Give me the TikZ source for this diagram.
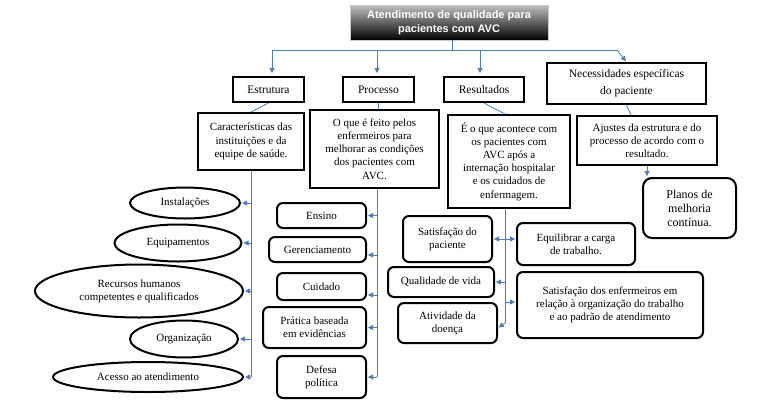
\documentclass[tikz,border=0pt]{standalone}
\usepackage{fontspec}
\setmainfont{Liberation Serif}
\newfontfamily\serfont{Liberation Serif}
\newfontfamily\titlefont{Liberation Sans}
\usetikzlibrary{shapes.geometric,arrows.meta}
\definecolor{linkblue}{HTML}{4A7EBB}
\begin{document}
\begin{tikzpicture}[x=1pt,y=-1pt,
  sz/.style 2 args={minimum width=#1pt,minimum height=#2pt},
  box/.style={draw=black,line width=2pt,inner sep=0pt,align=center,font=\serfont\fontsize{11}{13.2}\selectfont},
  hbox/.style={box,font=\serfont\fontsize{11.5}{15}\selectfont},
  rbox/.style={box,rounded corners=6pt},
  oval/.style={ellipse,draw=black,line width=2pt,inner sep=0pt,align=center,font=\serfont\fontsize{11}{13.2}\selectfont},
  titlebox/.style={top color=gray!50,bottom color=black,draw=gray!40,line width=0.6pt,inner sep=0pt,align=center,text=white,font=\titlefont\bfseries\fontsize{11}{14}\selectfont},
  link/.style={draw=linkblue,line width=0.8pt},
  arr/.style={link,-{Triangle[width=5pt,length=5pt]},shorten >=1pt},
  darr/.style={link,{Triangle[width=5pt,length=5pt]}-{Triangle[width=5pt,length=5pt]},shorten >=1pt,shorten <=1pt}
]
\fill[white] (0,0) rectangle (774,405);
\useasboundingbox (0,0) rectangle (774,405);

% title
\node[titlebox,sz={198}{35}] (title) at (449,22.5) {Atendimento de qualidade para\\pacientes com AVC};

% header boxes
\node[hbox,sz={71}{25}] (estr) at (268.5,89.5) {Estrutura};
\node[hbox,sz={71}{25}] (proc) at (378.5,89.5) {Processo};
\node[hbox,sz={80}{25}] (resu) at (484,89.5) {Resultados};
\node[hbox,sz={159}{41},font=\serfont\fontsize{11.5}{17}\selectfont] (nec) at (626.5,83.5) {Necessidades específicas\\do paciente};

% descriptions
\node[box,sz={106}{57}] (carac) at (251,141.5) {Características das\\instituições e da\\equipe de saúde.};
\node[box,sz={129}{78}] (procd) at (374.5,149) {O que é feito pelos\\enfermeiros para\\melhorar as condições\\dos pacientes com\\AVC.};
\node[box,sz={122}{93}] (resud) at (509,161.5) {É o que acontece com\\os pacientes com\\AVC após a\\internação hospitalar\\e os cuidados de\\enfermagem.};
\node[box,sz={140}{49}] (ajus) at (647,140.5) {Ajustes da estrutura e do\\processo de acordo com o\\resultado.};
\node[rbox,sz={93}{60},rounded corners=9pt,font=\serfont\fontsize{12}{14}\selectfont] (planos) at (689.5,208) {Planos de\\melhoria\\contínua.};

% ellipses
\node[oval,sz={110}{31}] (inst) at (185,203) {Instalações};
\node[oval,sz={127}{37}] (equip) at (178,243) {Equipamentos};
\node[oval,sz={208}{53}] (recur) at (139,291) {Recursos humanos\\competentes e qualificados};
\node[oval,sz={108}{37}] (org) at (184,339) {Organização};
\node[oval,sz={190}{30}] (acesso) at (148,377) {Acesso ao atendimento};

% process list
\node[rbox,sz={89}{25}] (ensino) at (321.5,215.5) {Ensino};
\node[rbox,sz={97}{25}] (geren) at (317.5,249.5) {Gerenciamento};
\node[rbox,sz={89}{27}] (cuid) at (321.5,286.5) {Cuidado};
\node[rbox,sz={103}{41}] (prat) at (314.5,327.5) {Prática baseada\\em evidências};
\node[rbox,sz={89}{42}] (defesa) at (321.5,377) {Defesa\\política};

% result list
\node[rbox,sz={89}{46}] (satp) at (447.5,239) {Satisfação do\\paciente};
\node[rbox,sz={106}{30}] (qual) at (441,282) {Qualidade de vida};
\node[rbox,sz={99}{40}] (ativ) at (447.5,323) {Atividade da\\doença};
\node[rbox,sz={118}{42}] (equil) at (576,244) {Equilibrar a carga\\de trabalho.};
\node[rbox,sz={186}{66}] (satenf) at (610,305) {Satisfação dos enfermeiros em\\relação à organização do trabalho\\e ao padrão de atendimento};

% top connectors
\coordinate (hl) at (272,50);
\coordinate (hr) at (617,50);
\coordinate (hm) at (452,50);
\coordinate (tstem) at ([xshift=3pt]title.south);
\draw[link] (tstem) -- (hm);
\draw[link] (hl) -- (hr);
\coordinate (pn) at ([xshift=-1.5pt]proc.north);
\coordinate (rn) at ([xshift=-4pt]resu.north);
\draw[arr,shorten >=3pt] (hl) -- (hl |- estr.north);
\draw[arr,shorten >=3pt] (pn |- hl) -- (pn);
\draw[arr,shorten >=3pt] (rn |- hl) -- (rn);
\draw[arr] (hr) -- (nec.north);

\coordinate (rdn) at ([xshift=-4pt]resud.north);
\coordinate (ajn) at ([xshift=-16pt]ajus.north);
\draw[link] (estr.south) -- (carac.north);
\draw[link] (proc.south) -- (proc.south |- procd.north);
\draw[link] (resu.south) -- (rdn);
\draw[link] (nec.south) -- (ajn);
\draw[arr] (ajus.south) -- (ajus.south |- planos.north);

% structure list
\coordinate (cb) at (carac.south |- acesso.east);
\draw[link] (carac.south) -- (cb);
\foreach \n in {inst,equip,recur,org,acesso}
  \draw[arr] (carac.south |- \n.east) -- (\n.east);

% process list
\coordinate (pt) at ([xshift=2.5pt]procd.south);
\coordinate (ge) at ([yshift=-5.5pt]geren.east);
\coordinate (ce) at ([yshift=-8.5pt]cuid.east);
\draw[link] (pt) -- (pt |- defesa.east);
\draw[arr] (pt |- ensino.east) -- (ensino.east);
\draw[arr] (pt |- ge) -- (ge);
\draw[arr] (pt |- ce) -- (ce);
\draw[arr] (pt |- prat.east) -- (prat.east);
\draw[arr] (pt |- defesa.east) -- (defesa.east);

% result list
\coordinate (rt) at ([xshift=-4pt]resud.south);
\coordinate (ae) at ([yshift=-5pt]ativ.east);
\coordinate (rb) at ([yshift=5pt]rt |- ae);
\coordinate (se) at ([yshift=3pt]satenf.west);
\draw[link] (rt) -- (rb);
\draw[darr] (satp.east) -- (satp.east -| equil.west);
\draw[arr] (rt |- qual.east) -- (qual.east);
\draw[arr] (rt |- se) -- (se);
\draw[arr] (rb) -- (ae);
\end{tikzpicture}
\end{document}
